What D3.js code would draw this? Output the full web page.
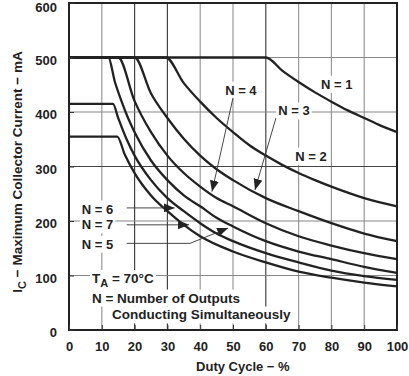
<!DOCTYPE html>
<html>
<head>
<meta charset="utf-8">
<script src="https://cdn.jsdelivr.net/npm/d3@7"></script>
<style>
body { margin: 0; background: #fff; }
text { font-family: "Liberation Sans", Arial, sans-serif; font-weight: bold; fill: #222; }
</style>
</head>
<body>
<div id="chart"></div>
<script>
var width = 409;
var height = 376;
var margin = {top: 3, right: 12, bottom: 46, left: 69};
var w = width - margin.left - margin.right;
var h = height - margin.top - margin.bottom;

// ticks
var xTicks = [0, 10, 20, 30, 40, 50, 60, 70, 80, 90, 100];
var yTicks = [0, 100, 200, 300, 400, 500, 600];

// curves: duty cycle (%) and max collector current (mA)
var dutyN1 = [0, 60, 65, 70, 75, 80, 85, 90, 95, 100];
var currN1 = [500, 500, 476, 455, 436, 419, 403, 389, 375, 363];
var dutyN2 = [0, 29.5, 35, 40, 45, 50, 55, 60, 65, 70, 75, 80, 90, 100];
var currN2 = [500, 500, 453, 419, 389, 363, 339, 320, 303, 288, 275, 263, 242, 227];
var dutyN3 = [0, 20, 25, 30, 35, 40, 45, 50, 60, 70, 80, 90, 100];
var currN3 = [500, 500, 434, 389, 351, 320, 295, 275, 242, 218, 196, 177, 163];
var dutyN4 = [0, 15, 20, 25, 30, 35, 40, 45, 50, 60, 70, 80, 90, 100];
var currN4 = [500, 500, 420, 363, 320, 288, 263, 242, 227, 196, 172, 155, 141, 130];
var dutyN5 = [0, 12, 14, 16, 18, 20, 25, 30, 35, 40, 45, 50, 60, 70, 80, 90, 100];
var currN5 = [500, 500, 455, 420, 389, 363, 311, 275, 247, 227, 206, 190, 163, 144, 130, 116, 105];
var dutyN6 = [0, 13.4, 15, 17.5, 20, 25, 30, 35, 40, 45, 50, 60, 70, 80, 90, 100];
var currN6 = [415, 415, 389, 351, 320, 275, 242, 218, 196, 177, 163, 141, 124, 109, 99, 92];
var dutyN7 = [0, 14.7, 17, 20, 25, 30, 35, 40, 50, 60, 70, 80, 90, 100];
var currN7 = [355, 355, 322, 288, 247, 218, 193, 172, 144, 124, 107, 96, 87, 80];

var curves = [
  [dutyN1, currN1], [dutyN2, currN2], [dutyN3, currN3], [dutyN4, currN4],
  [dutyN5, currN5], [dutyN6, currN6], [dutyN7, currN7]
];

var x = d3.scaleLinear().domain([0, 100]).range([0, w]);
var y = d3.scaleLinear().domain([0, 600]).range([h, 0]);

var svg = d3.select("#chart").append("svg")
  .attr("width", width)
  .attr("height", height);

var defs = svg.append("defs");
defs.append("marker")
  .attr("id", "arrow")
  .attr("markerUnits", "userSpaceOnUse")
  .attr("markerWidth", 12).attr("markerHeight", 10)
  .attr("refX", 11).attr("refY", 4.5)
  .attr("orient", "auto")
  .append("path")
  .attr("d", "M0,0 L11,4.5 L0,9 Z")
  .attr("fill", "#222");

var g = svg.append("g")
  .attr("transform", "translate(" + margin.left + "," + margin.top + ")");

// grid
var darkX = [20, 30, 60];
g.selectAll(".vgrid").data(xTicks.slice(1, -1)).enter().append("line")
  .attr("class", "vgrid")
  .attr("x1", function(d) { return x(d); }).attr("x2", function(d) { return x(d); })
  .attr("y1", 0).attr("y2", h)
  .attr("stroke", function(d) { return darkX.indexOf(d) >= 0 ? "#444" : "#999"; })
  .attr("stroke-width", 1.2);
g.selectAll(".hgrid").data(yTicks.slice(1, -1)).enter().append("line")
  .attr("class", "hgrid")
  .attr("x1", 0).attr("x2", w)
  .attr("y1", function(d) { return y(d); }).attr("y2", function(d) { return y(d); })
  .attr("stroke", function(d) { return d == 300 ? "#444" : "#888"; })
  .attr("stroke-width", 1.2);

// annotations (positions in data units)
var labels = [
  {t: "N = 1", x: 81.6, y: 451, anchor: "middle", size: 13},
  {t: "N = 3", x: 68.6, y: 402, anchor: "middle", size: 13},
  {t: "N = 4", x: 52.4, y: 440, anchor: "middle", size: 13},
  {t: "N = 2", x: 73.8, y: 319, anchor: "middle", size: 13},
  {t: "N = 6", x: 8.7, y: 222, anchor: "middle", size: 13},
  {t: "N = 7", x: 8.7, y: 193, anchor: "middle", size: 13},
  {t: "N = 5", x: 8.7, y: 157, anchor: "middle", size: 13},
  {t: "N = Number of Outputs", x: 7, y: 59, anchor: "start", size: 13.5},
  {t: "Conducting Simultaneously", x: 13.1, y: 28, anchor: "start", size: 13.5}
];

var bgLayer = g.append("g");
var curveLayer = g.append("g");
var textLayer = g.append("g");

var line = d3.line()
  .x(function(d) { return x(d[0]); })
  .y(function(d) { return y(d[1]); })
  .curve(d3.curveMonotoneX);

curves.forEach(function(c) {
  var pts = c[0].map(function(d, i) { return [d, c[1][i]]; });
  curveLayer.append("path")
    .attr("d", line(pts))
    .attr("fill", "none")
    .attr("stroke", "#222")
    .attr("stroke-width", 2.3)
    .attr("stroke-linejoin", "round");
});

labels.forEach(function(l) {
  textLayer.append("text")
    .attr("x", x(l.x)).attr("y", y(l.y))
    .attr("dy", "0.35em")
    .attr("text-anchor", l.anchor)
    .style("font-size", l.size + "px")
    .text(l.t);
});

var ta = textLayer.append("text")
  .attr("x", x(7)).attr("y", y(95))
  .attr("dy", "0.35em")
  .style("font-size", "13.5px");
ta.append("tspan").text("T");
ta.append("tspan").attr("dy", 4).style("font-size", "11px").text("A");
ta.append("tspan").attr("dy", -4).text(" = 70\u00B0C");

// white boxes behind annotation texts
textLayer.selectAll("text").each(function() {
  var b = this.getBBox();
  bgLayer.append("rect")
    .attr("x", b.x - 2).attr("y", b.y - 1)
    .attr("width", b.width + 4).attr("height", b.height + 2)
    .attr("fill", "#fff");
});

// leader lines with arrows
var leaders = [
  [[63.1, 389], [56.7, 257]],
  [[50.0, 426], [43.6, 254]],
  [[17.6, 224], [32.2, 224]],
  [[17.6, 193], [36.6, 193]],
  [[17.6, 159], [36.9, 159], [48.5, 187]]
];
leaders.forEach(function(p) {
  g.append("path")
    .attr("d", d3.line().x(function(d) { return x(d[0]); }).y(function(d) { return y(d[1]); })(p))
    .attr("fill", "none")
    .attr("stroke", "#333")
    .attr("stroke-width", 0.9)
    .attr("marker-end", "url(#arrow)");
});

// frame
g.append("rect")
  .attr("x", 0).attr("y", 0).attr("width", w).attr("height", h)
  .attr("fill", "none").attr("stroke", "#222").attr("stroke-width", 2);

// axes
var xAxis = g.append("g")
  .attr("transform", "translate(0," + h + ")")
  .call(d3.axisBottom(x).tickValues(xTicks).tickSize(5).tickPadding(7));
xAxis.selectAll(".tick line").attr("y2", -5).attr("stroke", "#333");
var yAxis = g.append("g")
  .call(d3.axisLeft(y).tickValues(yTicks).tickSize(5).tickPadding(7));
yAxis.selectAll(".tick line").attr("x2", 5).attr("stroke", "#333");
yAxis.selectAll(".tick text").attr("dy", function(d) { return d == 600 ? "0.66em" : "0.52em"; });
g.selectAll(".domain").remove();
g.selectAll(".tick text")
  .style("font-family", "'Liberation Sans', Arial, sans-serif")
  .style("font-weight", "bold")
  .style("font-size", "13px")
  .attr("fill", "#222");

// axis titles
g.append("text")
  .attr("x", x(53)).attr("y", h + 41)
  .attr("text-anchor", "middle")
  .style("font-size", "13px")
  .text("Duty Cycle \u2212 %");

var yt = svg.append("text")
  .attr("transform", "translate(22," + 172 + ") rotate(-90)")
  .attr("text-anchor", "middle")
  .style("font-size", "13.5px");
yt.append("tspan").text("I");
yt.append("tspan").attr("dy", 4).style("font-size", "11px").text("C");
yt.append("tspan").attr("dy", -4).text(" \u2212 Maximum Collector Current \u2212 mA");
</script>
</body>
</html>
